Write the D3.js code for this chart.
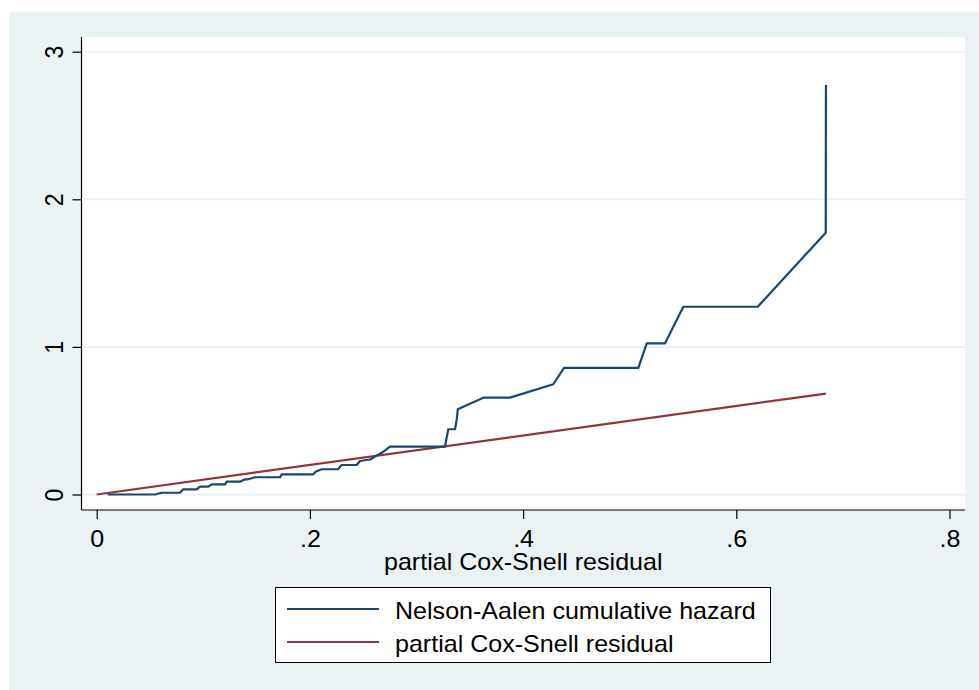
<!DOCTYPE html>
<html>
<head>
<meta charset="utf-8">
<script src="https://cdn.jsdelivr.net/npm/d3@7"></script>
<style>
  html, body { margin: 0; padding: 0; background: #ffffff; }
  svg { display: block; }
  text { font-family: "Liberation Sans", Arial, Helvetica, sans-serif; }
</style>
</head>
<body>
<svg id="chart" width="979" height="690"></svg>
<script>
// ---- data ----
const residX = [0.0103, 0.0547, 0.0610, 0.0781, 0.0812, 0.0938, 0.0969, 0.1047, 0.1079, 0.1204,
  0.1220, 0.1344, 0.1391, 0.1420, 0.1485, 0.1720, 0.1735, 0.2032, 0.2057, 0.2111, 0.2264,
  0.2298, 0.2439, 0.2470, 0.2564, 0.2620, 0.2689, 0.2751, 0.3267, 0.3298, 0.3361, 0.3378,
  0.3387, 0.3627, 0.3877, 0.4283, 0.4384, 0.5081, 0.5160, 0.5332, 0.5503, 0.6201, 0.6839, 0.6841];
const nelsonAalen = [0, 0, 0.012, 0.012, 0.035, 0.035, 0.053, 0.053, 0.069, 0.069,
  0.087, 0.087, 0.103, 0.103, 0.117, 0.117, 0.137, 0.137, 0.156, 0.171, 0.171,
  0.200, 0.200, 0.227, 0.237, 0.261, 0.290, 0.324, 0.324, 0.442, 0.442, 0.510,
  0.577, 0.656, 0.656, 0.747, 0.858, 0.858, 1.024, 1.024, 1.272, 1.272, 1.774, 2.775];
const refX = [0, 0.684];
const refY = [0, 0.684];
const xTicks = [0, 0.2, 0.4, 0.6, 0.8];
const xTickLabels = ["0", ".2", ".4", ".6", ".8"];
const yTicks = [0, 1, 2, 3];
const yTickLabels = ["0", "1", "2", "3"];
const xTitle = "partial Cox-Snell residual";
const legendLabels = ["Nelson-Aalen cumulative hazard", "partial Cox-Snell residual"];
const seriesColors = ["#1a476f", "#90353b"];

// ---- layout ----
const svg = d3.select("#chart");
const plot = { left: 81.5, right: 965, top: 37, bottom: 510 };
const stretch = "scale(1.09,1)";
const fontSize = 23;

const x = d3.scaleLinear().domain([0, 0.8]).range([96.7, 949.5]);
const y = d3.scaleLinear().domain([0, 3]).range([494.5, 51.7]);

// outer background
svg.append("rect").attr("x", 9).attr("y", 12).attr("width", 970).attr("height", 678).attr("fill", "#eaf2f3");
// plot region
svg.append("rect").attr("x", plot.left).attr("y", plot.top)
  .attr("width", plot.right - plot.left).attr("height", plot.bottom - plot.top).attr("fill", "#ffffff");

// gridlines
svg.append("g").selectAll("line").data(yTicks).join("line")
  .attr("x1", plot.left).attr("x2", plot.right)
  .attr("y1", d => y(d)).attr("y2", d => y(d))
  .attr("stroke", "#eaf2f3").attr("stroke-width", 2);

// series
const line = d3.line().x(d => x(d[0])).y(d => y(d[1]));
svg.append("path").datum(refX.map((v, i) => [v, refY[i]]))
  .attr("d", line).attr("fill", "none").attr("stroke", seriesColors[1]).attr("stroke-width", 2.2);
svg.append("path").datum(residX.map((v, i) => [v, nelsonAalen[i]]))
  .attr("d", line).attr("fill", "none").attr("stroke", seriesColors[0]).attr("stroke-width", 2.2)
  .attr("stroke-linejoin", "round");

// axes
const xAxis = d3.axisBottom(x).tickValues(xTicks).tickFormat((d, i) => xTickLabels[i])
  .tickSize(9).tickSizeOuter(0);
const gx = svg.append("g").attr("transform", `translate(0,${plot.bottom})`).call(xAxis);
gx.select(".domain").remove();
gx.selectAll(".tick line").attr("stroke", "#000").attr("stroke-width", 1.2);
gx.selectAll(".tick text").attr("y", 0).attr("dy", null)
  .attr("transform", `translate(0,37) ${stretch}`)
  .attr("font-size", fontSize).attr("font-family", "'Liberation Sans', Arial, sans-serif")
  .attr("fill", "#000").attr("text-anchor", "middle");

const yAxis = d3.axisLeft(y).tickValues(yTicks).tickFormat((d, i) => yTickLabels[i])
  .tickSize(9).tickSizeOuter(0);
const gy = svg.append("g").attr("transform", `translate(${plot.left},0)`).call(yAxis);
gy.select(".domain").remove();
gy.selectAll(".tick line").attr("stroke", "#000").attr("stroke-width", 1.2);
gy.selectAll(".tick text").attr("x", 0).attr("dy", null).attr("y", 0)
  .attr("transform", `translate(-19,0) ${stretch} rotate(-90)`)
  .attr("font-size", fontSize).attr("font-family", "'Liberation Sans', Arial, sans-serif")
  .attr("fill", "#000").attr("text-anchor", "middle");

svg.append("line").attr("x1", plot.left).attr("x2", plot.right).attr("y1", plot.bottom).attr("y2", plot.bottom)
  .attr("stroke", "#000").attr("stroke-width", 1.2);
svg.append("line").attr("x1", plot.left).attr("x2", plot.left).attr("y1", plot.top).attr("y2", plot.bottom)
  .attr("stroke", "#000").attr("stroke-width", 1.2);

// x title
svg.append("text").attr("transform", `translate(${(plot.left + plot.right) / 2},570) ${stretch}`)
  .attr("text-anchor", "middle").attr("font-size", fontSize).attr("fill", "#000").text(xTitle);

// legend
const lg = svg.append("g");
lg.append("rect").attr("x", 275.5).attr("y", 587.5).attr("width", 495).attr("height", 75)
  .attr("fill", "#fff").attr("stroke", "#000").attr("stroke-width", 1);
legendLabels.forEach((lab, i) => {
  const yy = 609 + i * 33;
  lg.append("line").attr("x1", 287).attr("x2", 379).attr("y1", yy).attr("y2", yy)
    .attr("stroke", seriesColors[i]).attr("stroke-width", 2.2);
  lg.append("text").attr("transform", `translate(395,${yy + 10}) ${stretch}`)
    .attr("font-size", fontSize).attr("fill", "#000").text(lab);
});
</script>
</body>
</html>
